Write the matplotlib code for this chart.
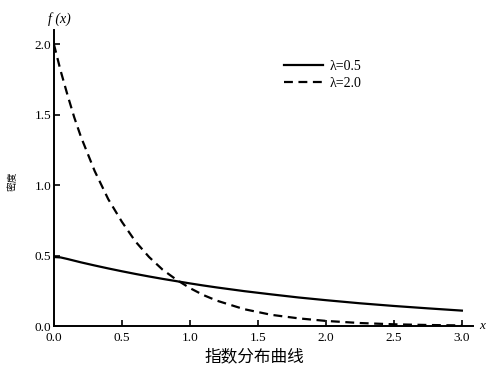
import matplotlib.pyplot as plt

# values
x_vals = [0.0, 0.05, 0.1, 0.15, 0.2, 0.3, 0.4, 0.5, 0.6, 0.7, 0.8, 0.9, 1.0,
          1.1, 1.2, 1.4, 1.6, 1.8, 2.0, 2.25, 2.5, 2.75, 3.0]
dens_05 = [0.49, 0.487, 0.476, 0.464, 0.452, 0.43, 0.409, 0.389, 0.37, 0.352,
           0.335, 0.319, 0.303, 0.288, 0.274, 0.248, 0.225, 0.203, 0.184,
           0.162, 0.143, 0.126, 0.11]
dens_20 = [2.0, 1.81, 1.64, 1.48, 1.34, 1.10, 0.90, 0.74, 0.60, 0.49, 0.40,
           0.33, 0.27, 0.22, 0.18, 0.12, 0.08, 0.055, 0.037, 0.022, 0.013,
           0.008, 0.005]
labels = ['λ=0.5', 'λ=2.0']
x_ticks = [0.0, 0.5, 1.0, 1.5, 2.0, 2.5, 3.0]
y_ticks = [0.0, 0.5, 1.0, 1.5, 2.0]

serif = ['Liberation Serif', 'DejaVu Serif']
cjk = ['Noto Sans CJK SC', 'DejaVu Sans']

fig = plt.figure(figsize=(4.94, 3.74), dpi=100)
ax = fig.add_axes([0.109, 0.128, 0.848, 0.792])

ax.plot(x_vals, dens_05, color='black', lw=1.6, label=labels[0])
ax.plot(x_vals, dens_20, color='black', lw=1.6, dashes=(4, 2.5), label=labels[1])

ax.set_xlim(0, 3.08)
ax.set_ylim(0, 2.1)
ax.set_xticks(x_ticks)
ax.set_yticks(y_ticks)
ax.set_xticklabels([f'{t:.1f}' for t in x_ticks], family=serif, fontsize=9.5)
ax.set_yticklabels([f'{t:.1f}' for t in y_ticks], family=serif, fontsize=9.5)
ax.tick_params(direction='in', length=4, width=1.2)
ax.tick_params(axis='x', pad=4)
ax.tick_params(axis='y', pad=2)
for s in ['top', 'right']:
    ax.spines[s].set_visible(False)
for s in ['left', 'bottom']:
    ax.spines[s].set_linewidth(1.4)

ax.text(0.04, 2.13, 'f (x)', ha='center', va='bottom', fontsize=10,
        family=serif, style='italic', clip_on=False)
ax.text(3.13, 0.0, 'x', ha='left', va='center', fontsize=9.5,
        family=serif, style='italic', clip_on=False)
fig.text(0.025, 0.515, '密度', rotation=90, ha='center', va='center',
         fontsize=7, family=cjk)

leg = ax.legend(loc='upper left', bbox_to_anchor=(0.52, 0.94), frameon=False,
                handlelength=2.8, handletextpad=0.5, labelspacing=0.25,
                prop={'family': serif, 'size': 10})

fig.text(0.515, 0.045, '指数分布曲线', ha='center', va='center',
         fontsize=12, family=cjk)

fig.savefig('out.png', dpi=100)
